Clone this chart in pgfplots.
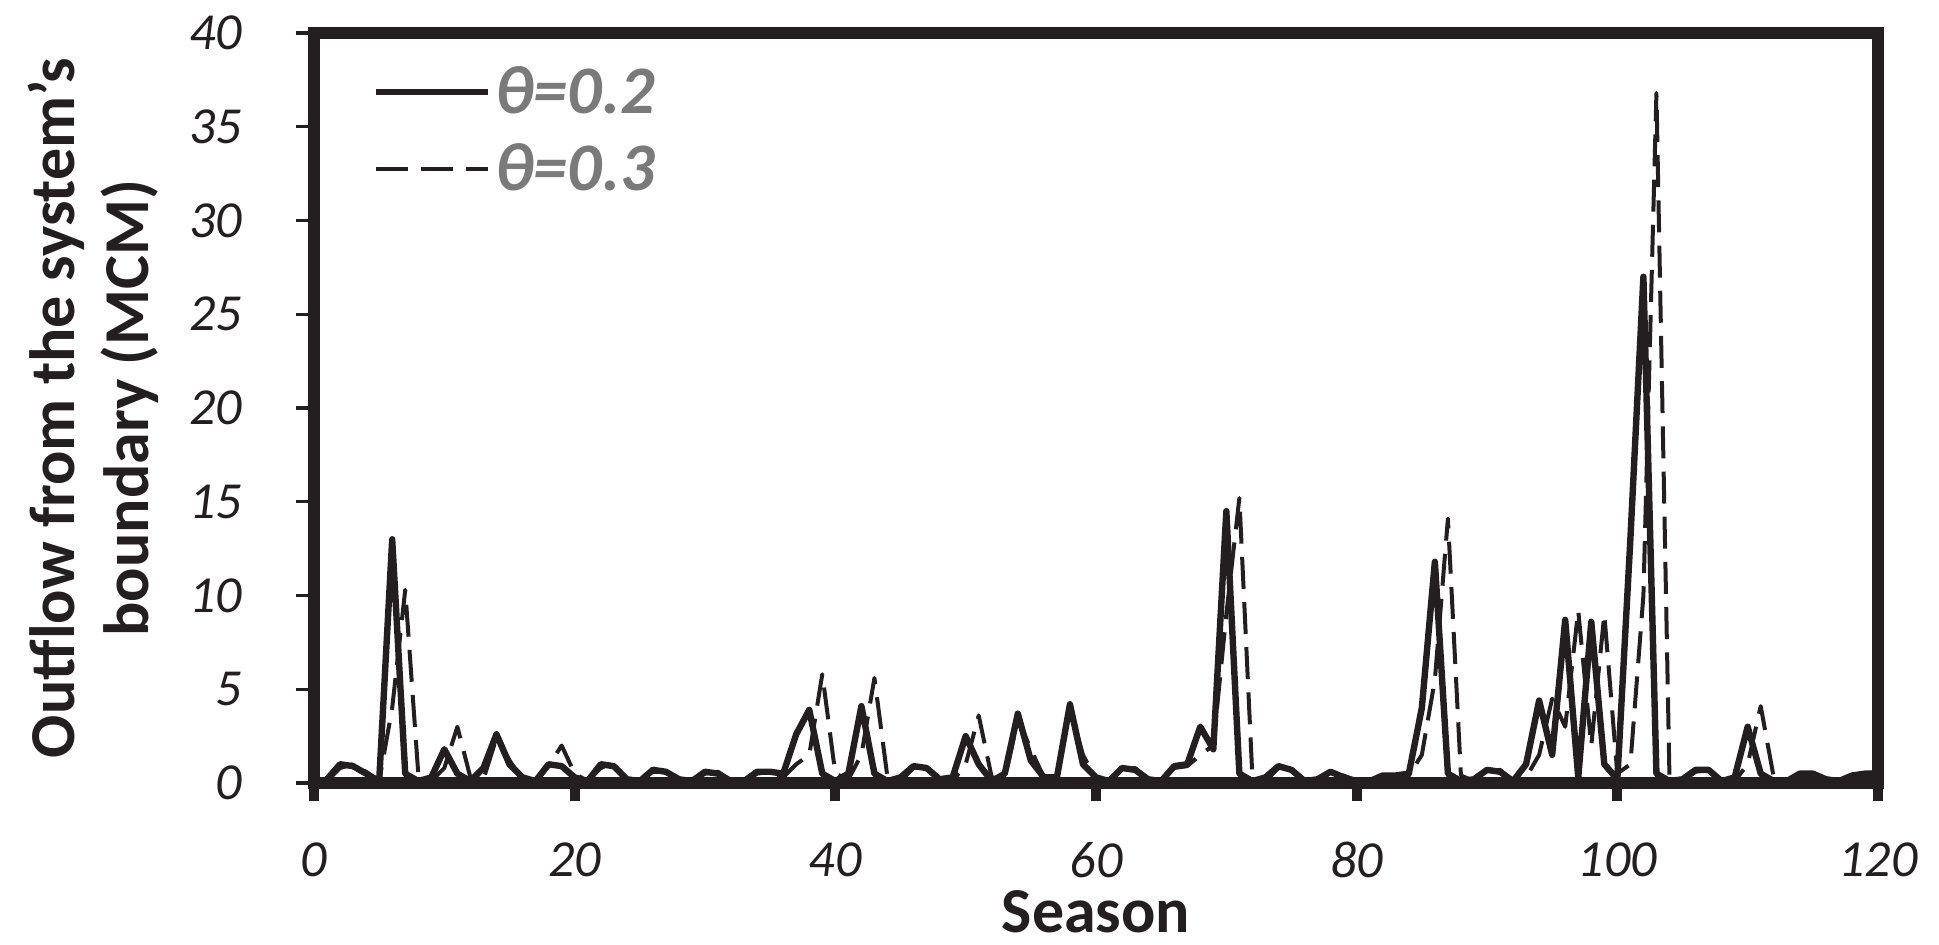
\documentclass[border=0pt]{standalone}
\usepackage{fontspec}
\setmainfont{Carlito}
\usepackage{pgfplots}
\usepackage{pgfplotstable}
\pgfplotsset{compat=1.18}
\definecolor{ink}{HTML}{231F20}
\definecolor{leggray}{HTML}{7A7A7A}

% season, outflow for b=0.2 and b=0.3 (MCM)
\pgfplotstableread{
s   b2    b3
1   0.2   0.1
2   1.0   0.8
3   0.9   1.0
4   0.5   0.6
5   0.1   0.1
6   13.0  4.0
7   0.5   10.3
8   0.1   0.5
9   0.3   0.1
10  1.8   0.8
11  0.5   3.0
12  0.1   0.3
13  0.8   0.2
14  2.6   2.4
15  1.0   1.2
16  0.3   0.2
17  0.1   0.1
18  1.0   0.9
19  0.9   2.0
20  0.3   0.5
21  0.1   0.1
22  1.0   0.8
23  0.9   1.0
24  0.2   0.2
25  0.1   0.1
26  0.7   0.6
27  0.6   0.6
28  0.2   0.2
29  0.1   0.1
30  0.6   0.5
31  0.5   0.6
32  0.1   0.1
33  0.1   0.1
34  0.6   0.5
35  0.6   0.6
36  0.5   0.3
37  2.6   1.0
38  3.9   1.5
39  0.5   5.8
40  0.1   0.5
41  0.5   0.2
42  4.1   1.5
43  0.5   5.6
44  0.1   0.3
45  0.3   0.1
46  0.9   0.8
47  0.8   0.9
48  0.2   0.2
49  0.3   0.1
50  2.5   1.0
51  1.0   3.6
52  0.1   0.3
53  0.5   0.2
54  3.7   3.4
55  1.2   1.8
56  0.3   0.3
57  0.3   0.2
58  4.2   4.0
59  1.0   1.5
60  0.3   0.2
61  0.1   0.1
62  0.8   0.7
63  0.7   0.8
64  0.2   0.2
65  0.1   0.1
66  0.9   0.8
67  1.0   0.9
68  3.0   1.5
69  1.8   2.0
70  14.5  9.0
71  0.5   15.2
72  0.1   0.3
73  0.3   0.1
74  0.9   0.8
75  0.7   0.8
76  0.1   0.1
77  0.2   0.1
78  0.6   0.5
79  0.3   0.4
80  0.1   0.1
81  0.1   0.1
82  0.4   0.3
83  0.4   0.4
84  0.5   0.4
85  4.0   1.5
86  11.8  5.5
87  0.5   14.1
88  0.1   0.4
89  0.2   0.1
90  0.7   0.6
91  0.6   0.7
92  0.1   0.1
93  1.0   0.3
94  4.4   1.5
95  1.5   4.5
96  8.7   3.0
97  0.3   9.2
98  8.6   2.0
99  1.0   9.0
100 0.2   0.5
101 13.0  1.0
102 27.0  10.0
103 0.5   36.8
104 0.1   0.3
105 0.2   0.1
106 0.7   0.6
107 0.7   0.7
108 0.1   0.1
109 0.3   0.1
110 3.0   1.0
111 0.5   4.1
112 0.1   0.3
113 0.1   0.1
114 0.5   0.4
115 0.5   0.5
116 0.2   0.2
117 0.1   0.1
118 0.4   0.3
119 0.5   0.5
120 0.5   0.6
}\outflow

\begin{document}
\begin{tikzpicture}
\begin{axis}[
    scale only axis,
    width=391pt, height=187.5pt,
    at={(0,0)}, anchor=south west,
    xmin=0, xmax=120, ymin=0, ymax=40,
    xtick={0,20,...,120}, ytick={0,5,...,40},
    axis line style={line width=3pt, ink},
    tick align=outside, tick pos=left,
    major tick length=4.5pt,
    xtick style={line width=2.5pt, ink},
    ytick style={line width=0.8pt, ink},
    /pgf/number format/assume math mode=true,
    every tick label/.append style={font=\itshape\fontsize{13}{13}\selectfont, text=ink},
    every x tick label/.append style={yshift=-6.8pt},
    every y tick label/.append style={xshift=-10pt},
    xlabel={Season},
    ylabel={Outflow from the system's\\boundary (MCM)},
    label style={font=\bfseries\fontsize{16}{18.5}\selectfont, text=ink},
    xlabel style={at={(axis description cs:0.5,-0.172)}, anchor=center},
    ylabel style={at={(axis description cs:-0.1413,0.5)}, anchor=center, align=center},
    legend style={draw=none, fill=none, at={(axis description cs:0,1)}, anchor=north west,
        xshift=14.5pt, yshift=-8pt, inner sep=0pt, row sep=7.25pt,
        font=\bfseries\itshape\fontsize{17}{17}\selectfont, text=leggray,
        nodes={inner sep=0pt, text height=12pt, text depth=0pt}},
    legend cell align=left,
    legend image code/.code={\draw[#1] (0pt,-0.6pt) -- (28pt,-0.6pt);},
    /tikz/every odd column/.append style={column sep=1pt},
]
\addplot[ink, line width=1.6pt, line join=round] table[x=s, y=b2] {\outflow};
\addlegendentry{θ=0.2}
\addplot[ink, line width=1.0pt, line join=round, dash pattern=on 8pt off 3.3pt] table[x=s, y=b3] {\outflow};
\addlegendentry{θ=0.3}
\end{axis}
\pgfresetboundingbox
\useasboundingbox (-78.5pt,-40.25pt) rectangle (406.25pt,195.75pt);
\end{tikzpicture}
\end{document}
